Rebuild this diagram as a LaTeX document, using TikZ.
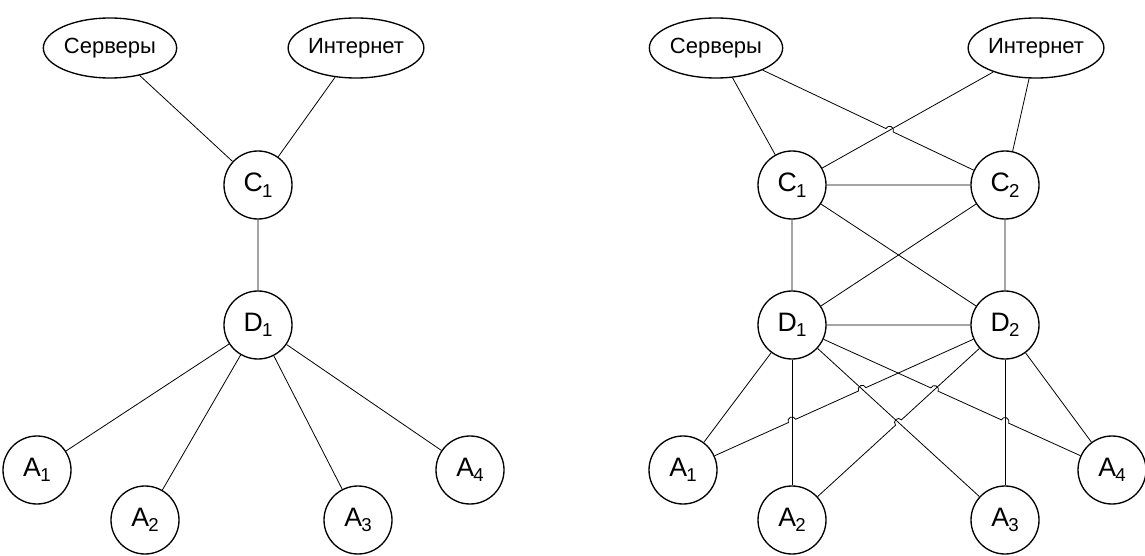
\documentclass[tikz,border=0pt]{standalone}
\usepackage{fontspec}
\setmainfont{Liberation Sans}
\usetikzlibrary{shapes.geometric,calc,intersections}

\newcommand{\hoprad}{3pt}
\newcommand{\nizh}[1]{\kern-0.5pt\raisebox{-0.4ex}{\fontsize{14}{14}\selectfont #1}}

\begin{document}
\begin{tikzpicture}[x=0.75pt,y=-0.75pt,
    uzel/.style={circle,draw,line width=1pt,minimum size=51pt,inner sep=0pt,
        font=\fontsize{20}{22}\selectfont},
    oblako/.style={ellipse,draw,line width=1pt,minimum width=100pt,minimum height=45pt,inner sep=0pt,
        font=\fontsize{16.5}{18}\selectfont},
    svyaz/.style={line width=0.6pt}]
    \useasboundingbox (0,0) rectangle (1145,556);

    % left: one core
    \node[oblako] (ls)  at (110,48) {Серверы};
    \node[oblako] (li)  at (356,48) {Интернет};
    \node[uzel]   (lc1) at (258,185) {C\nizh{1}};
    \node[uzel]   (ld1) at (258,325) {D\nizh{1}};
    \node[uzel]   (la1) at (37,470)  {A\nizh{1}};
    \node[uzel]   (la2) at (145,520) {A\nizh{2}};
    \node[uzel]   (la3) at (358,520) {A\nizh{3}};
    \node[uzel]   (la4) at (470,470) {A\nizh{4}};
    \draw[svyaz] (ls) -- (lc1) (li) -- (lc1) (lc1) -- (ld1);
    \foreach \a in {1,...,4}
        \draw[svyaz] (ld1) -- (la\a);

    % right: doubled core
    \node[oblako] (rs)  at (716,48)  {Серверы};
    \node[oblako] (ri)  at (1036,48) {Интернет};
    \node[uzel]   (rc1) at (792,185) {C\nizh{1}};
    \node[uzel]   (rc2) at (1005,185) {C\nizh{2}};
    \node[uzel]   (rd1) at (792,325) {D\nizh{1}};
    \node[uzel]   (rd2) at (1005,325) {D\nizh{2}};
    \node[uzel]   (ra1) at (683,470) {A\nizh{1}};
    \node[uzel]   (ra2) at (792,520) {A\nizh{2}};
    \node[uzel]   (ra3) at (1005,520) {A\nizh{3}};
    \node[uzel]   (ra4) at (1112,470) {A\nizh{4}};

    \draw[svyaz] (rs) -- (rc1) (ri) -- (rc2);
    \draw[svyaz,name path=ic] (ri) -- (rc1);
    \draw[svyaz] (rc1) -- (rc2) (rc1) -- (rd1) (rc2) -- (rd2)
        (rc1) -- (rd2) (rc2) -- (rd1) (rd1) -- (rd2);
    \draw[svyaz] (rd1) -- (ra1);
    \draw[svyaz,name path=da2] (rd1) -- (ra2);
    \draw[svyaz,name path=da3] (rd1) -- (ra3);
    \draw[svyaz,name path=eb3] (rd2) -- (ra3);
    \draw[svyaz] (rd2) -- (ra4);

    % crossings with hops
    \path[name path=sc] (rs) -- (rc2);
    \path[name path=eb1] (rd2) -- (ra1);
    \path[name path=eb2] (rd2) -- (ra2);
    \path[name path=da4] (rd1) -- (ra4);
    \path[name intersections={of=sc and ic,by=hx0}];
    \path[name intersections={of=eb1 and da3,by=hx1}];
    \path[name intersections={of=eb1 and da2,by=hx2}];
    \path[name intersections={of=da4 and eb2,by=hx3}];
    \path[name intersections={of=da4 and eb3,by=hx4}];
    \path[name intersections={of=eb2 and da3,by=hx5}];

    \draw[svyaz] let \p1=($(rs)-(rc2)$), \n1={atan2(\y1,\x1)} in
        (rs) -- ($(hx0)!\hoprad!(rs)$) arc[start angle=\n1,delta angle=-180,radius=\hoprad] -- (rc2);
    \draw[svyaz] let \p1=($(rd1)-(ra4)$), \n1={atan2(\y1,\x1)} in
        (rd1) -- ($(hx3)!\hoprad!(rd1)$) arc[start angle=\n1,delta angle=-180,radius=\hoprad]
        -- ($(hx4)!\hoprad!(rd1)$) arc[start angle=\n1,delta angle=-180,radius=\hoprad] -- (ra4);
    \draw[svyaz] let \p1=($(rd2)-(ra1)$), \n1={atan2(\y1,\x1)} in
        (rd2) -- ($(hx1)!\hoprad!(rd2)$) arc[start angle=\n1,delta angle=180,radius=\hoprad]
        -- ($(hx2)!\hoprad!(rd2)$) arc[start angle=\n1,delta angle=180,radius=\hoprad] -- (ra1);
    \draw[svyaz] let \p1=($(rd2)-(ra2)$), \n1={atan2(\y1,\x1)} in
        (rd2) -- ($(hx5)!\hoprad!(rd2)$) arc[start angle=\n1,delta angle=180,radius=\hoprad] -- (ra2);

\end{tikzpicture}
\end{document}
